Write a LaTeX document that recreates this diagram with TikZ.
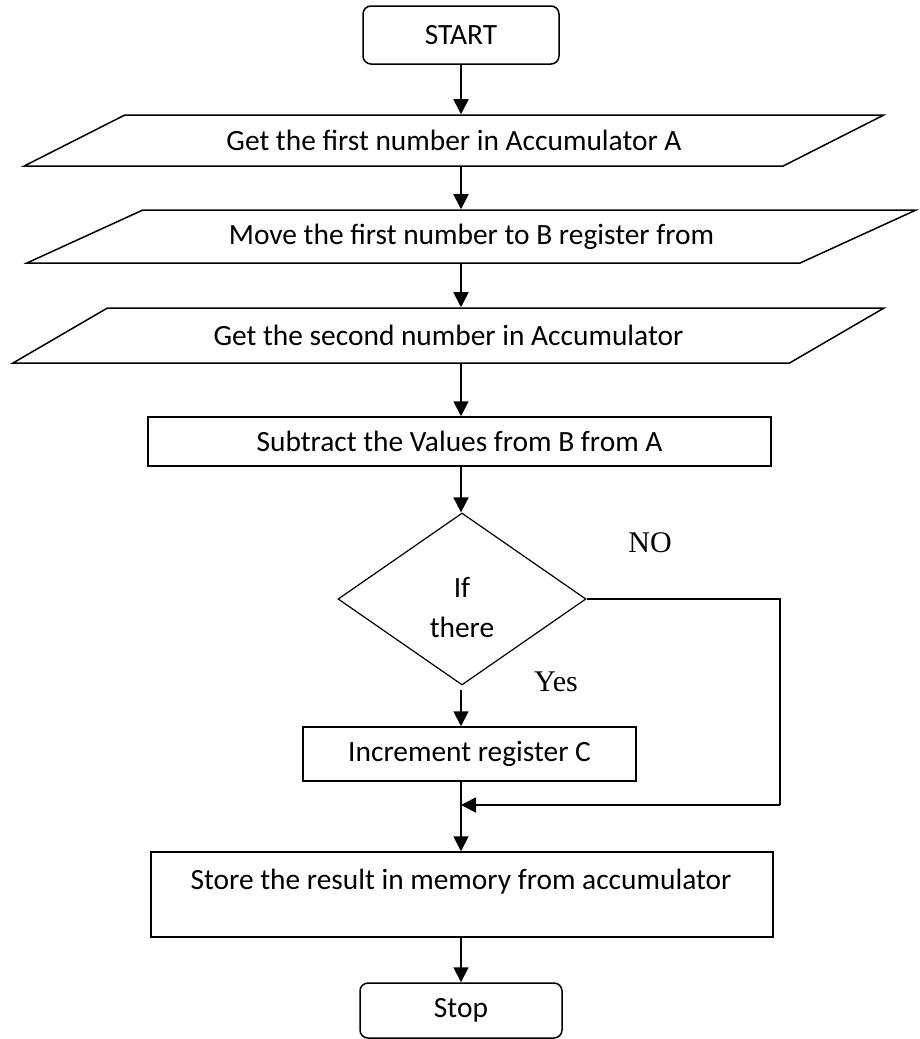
\documentclass[tikz,border=0pt]{standalone}
\usepackage{fontspec}
\setmainfont{Carlito}
\newfontfamily\timesfont{Liberation Serif}
\usetikzlibrary{shapes.geometric,arrows.meta}
\begin{document}
\begin{tikzpicture}[x=1pt,y=-1pt,
  every node/.style={font=\fontsize{29.4}{36}\selectfont, inner sep=0pt, text=black},
  term/.style={draw, line width=1.5pt, rounded corners=8pt},
  proc/.style={draw, line width=1.5pt},
  io/.style={draw, line width=1.5pt, shape=trapezium, trapezium stretches=true},
  dec/.style={draw, line width=1.2pt, shape=diamond, minimum width=248pt, minimum height=172pt},
  lab/.style={font=\timesfont\fontsize{30}{36}\selectfont},
  arr/.style={line width=1.8pt, -{Triangle[width=15pt,length=15pt]}},
  flow/.style={line width=1.8pt}
]
\useasboundingbox (0,0) rectangle (920,1039);

\node[term, minimum width=196pt, minimum height=58pt] (start) at (461,35) {START};
\node[io, trapezium left angle=16.52, trapezium right angle=163.48,
      minimum width=862pt, minimum height=51pt] (p1) at (454,140.5) {Get the first number in Accumulator A};
\node[io, trapezium left angle=16.58, trapezium right angle=163.42,
      minimum width=897pt, minimum height=53pt] (p2) at (471.5,236.5) {Move the first number to B register from};
\node[io, trapezium left angle=17.59, trapezium right angle=162.41,
      minimum width=873pt, minimum height=55pt] (p3) at (448.5,335.5) {Get the second number in Accumulator};
\node[proc, minimum width=623pt, minimum height=49pt] (sub) at (459.5,441.5) {Subtract the Values from B from A};
\node[dec] (dia) at (462,599) {};
\node[align=center, font=\fontsize{29.4}{40}\selectfont] (diatxt) at (462,608) {If\\there};
\node[lab] (no) at (650,543) {NO};
\node[lab] (yes) at (556,682) {Yes};
\node[proc, minimum width=333pt, minimum height=54pt] (inc) at (469.5,754) {Increment register C};
\node[proc, minimum width=622pt, minimum height=85pt] (store) at (462,894.5) {};
\node (storetxt) at (461,882) {Store the result in memory from accumulator};
\node[term, minimum width=202pt, minimum height=55pt] (stop) at (461,1010.5) {Stop};

\coordinate (nocorner) at (780,805);
\coordinate (merge) at (461,805);

\draw[arr] (start.south) -- (start.south |- p1.north);
\draw[arr] (p1.south -| start) -- (p2.north -| start);
\draw[arr] (p2.south -| start) -- (p3.north -| start);
\draw[arr] (p3.south -| start) -- (sub.north -| start);
\draw[arr] (sub.south -| start) -- (dia.north -| start);
\draw[arr, shorten <=4pt] (dia.south -| start) -- (inc.north -| start);
\draw[arr] (inc.south -| start) -- (store.north -| start);
\draw[arr] (store.south -| start) -- (stop.north -| start);
\draw[flow] (dia.east) -| (nocorner);
\draw[arr] (nocorner) -- (merge);
\end{tikzpicture}
\end{document}
